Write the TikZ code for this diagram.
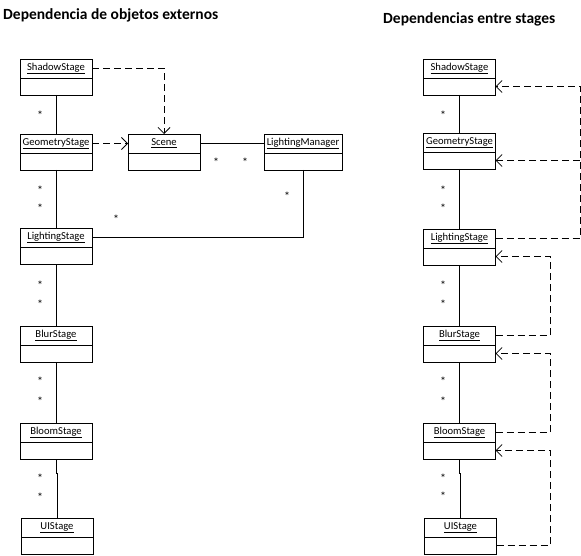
\documentclass[tikz,border=0pt]{standalone}
\usepackage{fontspec}
\setmainfont{Carlito}
\usetikzlibrary{arrows.meta,positioning}
\begin{document}
\begin{tikzpicture}[x=1pt,y=-1pt,
  hdr/.style={draw, line width=0.8pt, minimum width=72pt, minimum height=19pt, inner sep=0pt, outer sep=0pt, anchor=north, font=\fontsize{10.6}{12}\selectfont},
  bdy/.style={draw, line width=0.8pt, minimum width=72pt, minimum height=17pt, inner sep=0pt, outer sep=0pt, anchor=north},
  assoc/.style={line width=0.8pt},
  dep/.style={line width=0.8pt, dash pattern=on 7pt off 4pt, -{Straight Barb[length=6pt,width=12pt]}},
  mult/.style={font=\fontsize{12}{14}\selectfont, inner sep=0pt},
  ttl/.style={font=\bfseries\fontsize{15.5}{18}\selectfont, inner sep=0pt, anchor=west}]
\useasboundingbox (0,0) rectangle (581,556);

% titles
\node[ttl] (t1) at (3,15) {Dependencia de objetos externos};
\node[ttl] (t2) at (383,19) {Dependencias entre stages};

% ---------- left diagram ----------
\node[hdr] (shL) at (56,59) {\underline{ShadowStage}};
\node[bdy] (shLb) at (shL.south) {};
\node[hdr] (geL) at (56,134) {\underline{GeometryStage}};
\node[bdy] (geLb) at (geL.south) {};
\node[hdr] (sc) at (164,134) {\underline{Scene}};
\node[bdy] (scb) at (sc.south) {};
\node[hdr, minimum width=78pt] (lm) at (303,134) {\underline{LightingManager}};
\node[bdy, minimum width=78pt] (lmb) at (lm.south) {};
\node[hdr] (lsL) at (56,228) {\underline{LightingStage}};
\node[bdy] (lsLb) at (lsL.south) {};
\node[hdr] (blL) at (56,326) {\underline{BlurStage}};
\node[bdy] (blLb) at (blL.south) {};
\node[hdr] (bmL) at (56,423) {\underline{BloomStage}};
\node[bdy] (bmLb) at (bmL.south) {};
\node[hdr] (uiL) at (57,518) {\underline{UIStage}};
\node[bdy] (uiLb) at (uiL.south) {};

\draw[assoc] (shLb.south) -- (geL.north);
\draw[assoc] (geLb.south) -- (lsL.north);
\draw[assoc] (lsLb.south) -- (blL.north);
\draw[assoc] (blLb.south) -- (bmL.north);
\draw[assoc] (bmLb.south) -- ++(0,14) -| (uiL.north);
\draw[assoc] (sc.east) -- (lm.west);
\draw[assoc] (lmb.south) |- (lsL.east);

\draw[dep] (shL.east) -| (sc.north);
\draw[dep] (geL.east) -- (sc.west);

\foreach \x/\y [count=\i] in {40/112,40/187,40/205,216/159,245/159,287/193,116/216,40/282,40/301,40/378,40/398,40/475,40/494}
  \node[mult] (mL\i) at (\x,\y+3) {*};

% ---------- right diagram ----------
\begin{scope}[every node/.append style={minimum width=73pt}]
\node[hdr] (shR) at (459.5,59) {\underline{ShadowStage}};
\node[bdy] (shRb) at (shR.south) {};
\node[hdr] (geR) at (459.5,133) {\underline{GeometryStage}};
\node[bdy] (geRb) at (geR.south) {};
\node[hdr] (lsR) at (459.5,229) {\underline{LightingStage}};
\node[bdy] (lsRb) at (lsR.south) {};
\node[hdr] (blR) at (459.5,326) {\underline{BlurStage}};
\node[bdy] (blRb) at (blR.south) {};
\node[hdr] (bmR) at (459.5,423) {\underline{BloomStage}};
\node[bdy] (bmRb) at (bmR.south) {};
\node[hdr] (uiR) at (460.5,518) {\underline{UIStage}};
\node[bdy] (uiRb) at (uiR.south) {};
\end{scope}

\draw[assoc] (shRb.south) -- (geR.north);
\draw[assoc] (geRb.south) -- (lsR.north);
\draw[assoc] (lsRb.south) -- (blR.north);
\draw[assoc] (blRb.south) -- (bmR.north);
\draw[assoc] (bmRb.south) -- ++(0,14) -| (uiR.north);

\coordinate (rc1) at (580,0);
\coordinate (rc2) at (550,0);
\draw[dep] (lsR.east) -| (rc1 |- shRb.east) -- (shRb.east);
\draw[dep] (rc1 |- geRb.east) -- (geRb.east);
\draw[dep] (blR.east) -| (rc2 |- lsRb.east) -- (lsRb.east);
\draw[dep] (bmR.east) -| (rc2 |- blRb.east) -- (blRb.east);
\draw[dep] (uiRb.east) -| (rc2 |- bmRb.east) -- (bmRb.east);

\foreach \x/\y [count=\i] in {443/112,443/187,443/205,443/282,443/301,443/378,443/398,443/475,443/493}
  \node[mult] (mR\i) at (\x,\y+3) {*};
\end{tikzpicture}
\end{document}
